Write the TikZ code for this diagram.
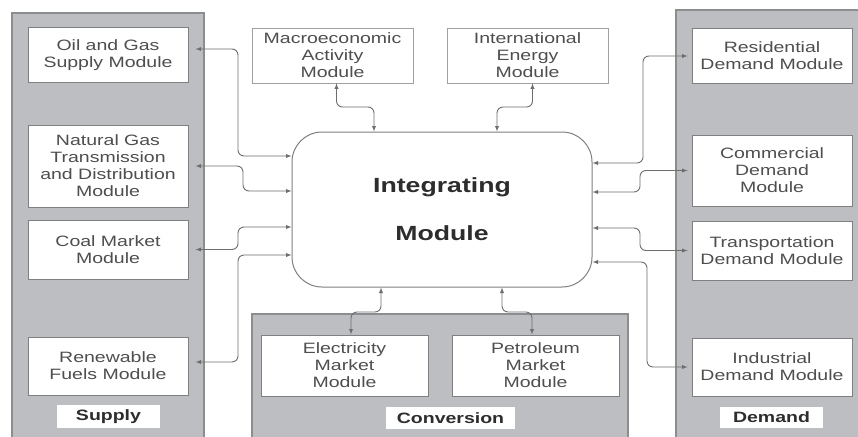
\documentclass[tikz,border=0pt]{standalone}
\usepackage{fontspec}
\setmainfont{Liberation Sans}[FakeStretch=1.3]
\definecolor{panelgray}{RGB}{188,190,193}
\definecolor{panelline}{RGB}{140,141,143}
\definecolor{boxline}{RGB}{128,128,128}
\definecolor{textgray}{RGB}{78,78,78}
\definecolor{labelgray}{RGB}{45,45,45}
\definecolor{linkgray}{RGB}{110,110,110}
\begin{document}
\begin{tikzpicture}[x=1pt,y=-1pt]
	\tikzstyle{panel} = [fill=panelgray,draw=panelline,line width=1.5pt];
	\tikzstyle{module} = [draw=boxline,fill=white,line width=1pt,text=textgray,align=center,inner sep=0pt,font=\fontsize{15}{17}\selectfont];
	\tikzstyle{outside} = [module,draw=boxline!75,line width=0.8pt];
	\tikzstyle{tag} = [fill=white,text=labelgray,inner sep=0pt,font=\fontsize{15}{17}\selectfont\bfseries];
	\tikzstyle{link} = [<->,>=latex,draw=linkgray,line width=0.9pt,rounded corners=6pt];
	
	\clip (0,0) rectangle (858,436);
	\fill[white] (0,0) rectangle (858,436);
	
	\draw[panel] (12,13) rectangle (204,440);
	\draw[panel] (252,314) rectangle (628,440);
	\draw[panel] (676,10) rectangle (862,440);
	
	
	\foreach \n/\x/\y/\h/\t in {oil/108/55/54/{Oil and Gas\\Supply Module},gas/108/166/82/{Natural Gas\\Transmission\\and Distribution\\Module},coal/108/249.5/59/{Coal Market\\Module},renew/108/366/58/{Renewable\\Fuels Module}}{
		\node[module,minimum width=160pt,minimum height=\h pt] (\n) at (\x,\y) {\t};
	}
	\foreach \n/\x/\y/\h/\t in {resid/772/56/54/{Residential\\Demand Module},comm/772/170.5/71/{Commercial\\Demand\\Module},trans/772/250.5/59/{Transportation\\Demand Module},indus/772/367/58/{Industrial\\Demand Module}}{
		\node[module,minimum width=160pt,minimum height=\h pt] (\n) at (\x,\y) {\t};
	}
	
	\node[outside,minimum width=161pt,minimum height=55pt] (macro) at (332.5,55.5) {Macroeconomic\\Activity\\Module};
	\node[outside,minimum width=161pt,minimum height=55pt] (intl) at (527.5,55.5) {International\\Energy\\Module};
	\node[module,minimum width=167pt,minimum height=61pt] (elec) at (344.5,365.5) {Electricity\\Market\\Module};
	\node[module,minimum width=167pt,minimum height=61pt] (petro) at (535.5,365.5) {Petroleum\\Market\\Module};
	
	\node[module,rounded corners=30pt,minimum width=300pt,minimum height=155pt,text=labelgray,font=\fontsize{20.5}{48}\selectfont\bfseries] (integ) at (442,209.5) {Integrating\\Module};
	
	\node[tag,minimum width=103pt,minimum height=23pt] (supply) at (108.5,416.5) {Supply};
	\node[tag,minimum width=129pt,minimum height=22pt] (conv) at (450.5,418) {Conversion};
	\node[tag,minimum width=103pt,minimum height=21pt] (demand) at (771.5,417.5) {Demand};
	
	
	\foreach \n/\dy/\bx/\iy in {oil/6/238/156,gas/0/243/191,coal/0/238/227,renew/4/238/255}{
		\draw[link,shorten <=7pt] ([yshift=\dy pt]\n.east) -| (\bx,\iy) -- (integ.west |- 0,\iy);
	}
	\foreach \n/\bx/\iy in {resid/643/163,comm/640/192,trans/640/228,indus/647/262}{
		\draw[link,shorten >=4pt] (integ.east |- 0,\iy) -- (\bx,\iy) |- (\n.west);
	}
	
	\draw[link] ([xshift=4pt]macro.south) |- (374,107) -- (integ.north -| 374,0);
	\draw[link] ([xshift=5pt]intl.south) |- (497,107) -- (integ.north -| 497,0);
	\draw[link] (integ.south -| 381,0) |- (351,312) -- (elec.north -| 351,0);
	\draw[link] (integ.south -| 502,0) |- (532,312) -- (petro.north -| 532,0);
	
\end{tikzpicture}
\end{document}
